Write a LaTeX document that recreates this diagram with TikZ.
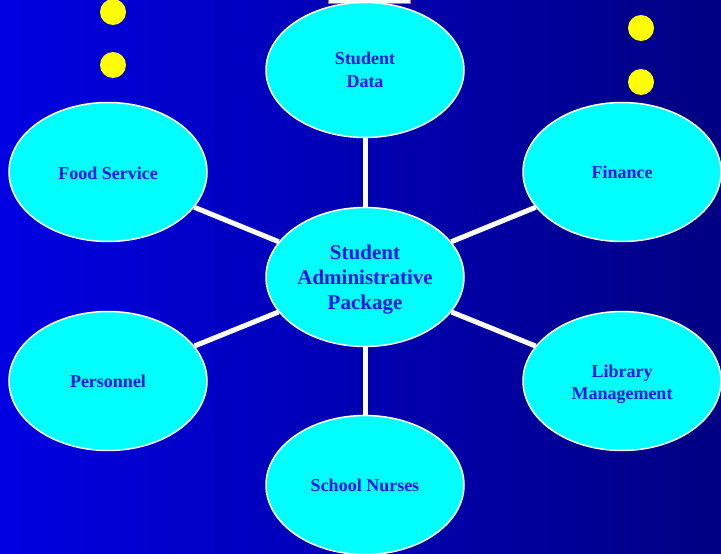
\documentclass[tikz,border=0pt]{standalone}
\usepackage{fontspec}
\setmainfont{Liberation Serif}
\usetikzlibrary{shapes.geometric}
\definecolor{bgL}{RGB}{0,0,226}
\definecolor{bgR}{RGB}{0,0,130}
\definecolor{txtblue}{RGB}{20,20,232}
\definecolor{cyanfill}{RGB}{0,255,255}
\definecolor{dotyellow}{RGB}{255,255,0}
\definecolor{redline}{RGB}{235,95,95}
\newcommand\loweredlines[2]{\raisebox{-#1}[\height][\depth]{\begin{tabular}{@{}c@{}}#2\end{tabular}}}
\tikzset{
  bubble/.style={ellipse, draw=white, line width=1.5pt, fill=cyanfill,
    minimum width=198pt, minimum height=139pt, inner sep=0pt,
    text=txtblue, align=center, font=\bfseries\fontsize{18}{22.5}\selectfont},
  hubbubble/.style={bubble, font=\bfseries\fontsize{21}{25}\selectfont},
  link/.style={white, line width=5pt},
  dot/.style={fill=dotyellow}
}
\begin{document}
\begin{tikzpicture}[x=1pt,y=-1pt]
\useasboundingbox (0,0) rectangle (721,554);
\shade[left color=bgL, right color=bgR] (0,0) rectangle (721,554);
\draw[redline, fill=white, line width=1pt] (328,-6) rectangle (410,3);
\fill[dot] (113,12) circle (13pt);
\fill[dot] (113,65) circle (13pt);
\fill[dot] (641,28) circle (13pt);
\fill[dot] (641,82) circle (13pt);
\node[hubbubble] (hub) at (365,277) {\loweredlines{2pt}{Student\\Administrative\\Package}};
\node[bubble, minimum height=135pt] (sd) at (365,70) {Student\\Data};
\node[bubble] (fs) at (108,172) {\raisebox{-1pt}[\height][\depth]{Food Service}};
\node[bubble] (fin) at (622,172) {Finance};
\node[bubble] (per) at (108,381) {Personnel};
\node[bubble] (lib) at (622,381) {\loweredlines{3pt}{Library\\Management}};
\node[bubble] (sn) at (365,485) {School Nurses};
\draw[link] (hub) -- (sd);
\draw[link] (hub) -- (fs);
\draw[link] (hub) -- (fin);
\draw[link] (hub) -- (per);
\draw[link] (hub) -- (lib);
\draw[link] (hub) -- (sn);
\end{tikzpicture}
\end{document}
